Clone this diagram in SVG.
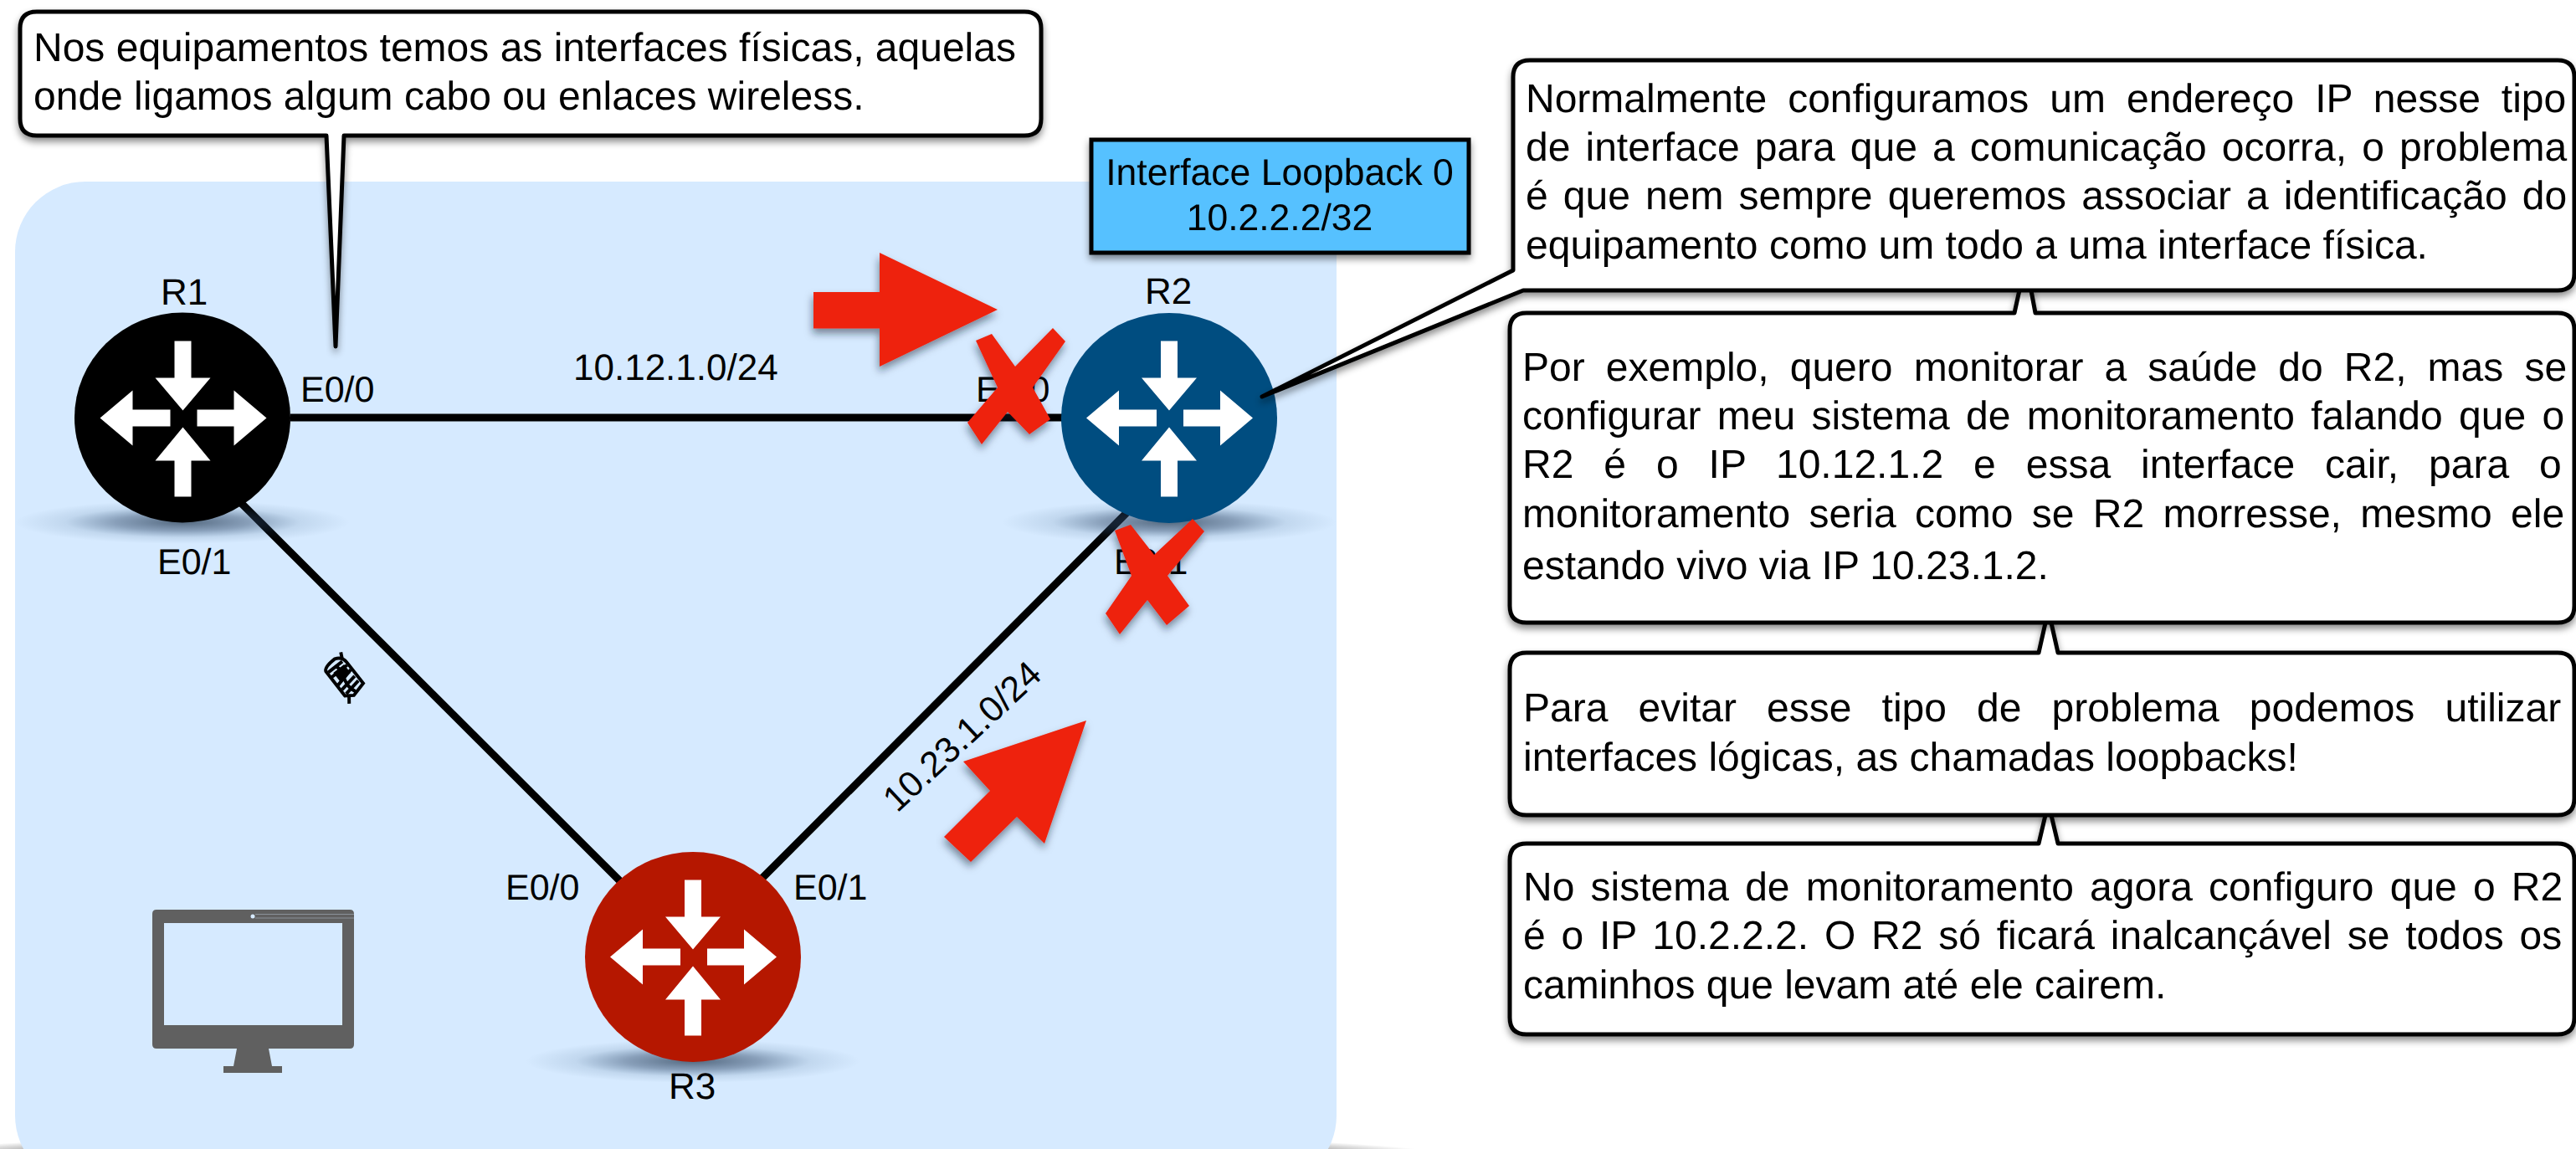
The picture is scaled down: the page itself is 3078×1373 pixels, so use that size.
<svg xmlns="http://www.w3.org/2000/svg" width="3078" height="1373" viewBox="0 0 3078 1373">
<style>
text{font-family:"Liberation Sans",Arial,sans-serif;fill:#000;text-rendering:geometricPrecision}
.b{font-size:48px}
.l{font-size:43px}
.r{font-size:44px}
.m{font-size:44px}
.c{text-anchor:middle}
.box{fill:#fff;stroke:#000;stroke-width:5;stroke-linejoin:round}
.link{stroke:#000;stroke-width:9;fill:none}
.red{fill:#EE220C}
</style>
<defs>
<filter id="sh" x="-10%" y="-10%" width="120%" height="125%"><feDropShadow dx="0" dy="5" stdDeviation="4" flood-color="#000" flood-opacity=".45"/></filter>
<filter id="shr" x="-20%" y="-20%" width="140%" height="140%"><feDropShadow dx="-1" dy="6" stdDeviation="5" flood-color="#123" flood-opacity=".5"/></filter>
<radialGradient id="gs"><stop offset="0" stop-color="#2a3f55" stop-opacity=".75"/><stop offset=".4" stop-color="#2a4465" stop-opacity=".45"/><stop offset=".7" stop-color="#2a4f75" stop-opacity=".12"/><stop offset="1" stop-color="#2a4f75" stop-opacity="0"/></radialGradient>
<radialGradient id="gb"><stop offset="0" stop-color="#000" stop-opacity=".7"/><stop offset=".8" stop-color="#000" stop-opacity=".45"/><stop offset="1" stop-color="#000" stop-opacity="0"/></radialGradient>
<g id="arrows" fill="#fff">
<path d="M-10-92H10V-48H33L0-9-33-48H-10Z"/>
<path d="M-10 94H10V51H33L0 11-33 51H-10Z"/>
<path d="M-15-10V10H-60V33L-99 0-60-33V-10Z"/>
<path d="M17-10V10H61V33L100 0 61-33V-10Z"/>
</g>
</defs>
<ellipse cx="807" cy="1382" rx="925" ry="32" fill="url(#gb)"/>
<rect id="area" x="18" y="217" width="1579" height="1200" rx="84" fill="#D6EAFF"/>
<g id="connectors">
<path class="link" d="M347 499H1270"/>
<path class="link" d="M288 601L742 1054"/>
<path class="link" d="M910 1050L1347 612"/>
</g>
<g id="R1">
<ellipse cx="218" cy="624" rx="200" ry="26" fill="url(#gs)"/>
<ellipse cx="218" cy="499" rx="129" ry="125.500" fill="#000"/>
<use href="#arrows" x="218.500" y="499.500"/>
<text class="r c" x="220" y="364">R1</text>
</g>
<g id="R2">
<ellipse cx="1397" cy="624" rx="200" ry="26" fill="url(#gs)"/>
<ellipse cx="1397" cy="499.500" rx="129" ry="125.500" fill="#004D80"/>
<use href="#arrows" x="1397" y="499.500"/>
<text class="r c" x="1396" y="363">R2</text>
</g>
<g id="R3">
<ellipse cx="828" cy="1268" rx="200" ry="26" fill="url(#gs)"/>
<ellipse cx="828" cy="1143.500" rx="129" ry="125.500" fill="#B51700"/>
<use href="#arrows" x="828" y="1143.500"/>
<text class="r c" x="827" y="1313">R3</text>
</g>
<g id="labels">
<text class="l" x="359" y="480">E0/0</text>
<text class="l" x="188" y="686">E0/1</text>
<text class="m" x="685" y="454">10.12.1.0/24</text>
<text class="l" x="1166" y="480">E0/0</text>
<text class="l" x="1331" y="686">E0/1</text>
<text class="l" x="604" y="1075">E0/0</text>
<text class="l" x="948" y="1075">E0/1</text>
<text class="m" transform="translate(1072 972) rotate(-43)" style="font-size:43px">10.23.1.0/24</text>
</g>
<g id="scribble" fill="none" stroke="#000" stroke-width="4.500" transform="translate(411 810) rotate(52) scale(.88)">
<path d="M-28-6Q-24-16-14-16H22L27 4 20 14H-22Q-28 12-28-6Z"/>
<path d="M-19-12V12M-11-14V14M-3-14L3 13M7-13L11 12M15-13L19 11M-20 0C-8-9 5 9 24-1M-30-18L-22-14M24 10L32 16"/>
<path d="M-12-9H-2V5H-12Z" fill="#000"/>
</g>
<g id="monitor">
<path fill="#606060" fill-rule="evenodd" d="M187 1087H418Q423 1087 423 1092V1248Q423 1253 418 1253H187Q182 1253 182 1248V1092Q182 1087 187 1087ZM196 1103V1225H409V1103Z"/>
<path fill="#606060" d="M283 1253H321L325 1274H337V1282H267V1274H279Z"/>
<path d="M305 1092.500H423M305 1097H423" stroke="#8a9199" stroke-width="1" fill="none"/>
<circle cx="302" cy="1095" r="2.500" fill="#D6EAFF"/>
</g>
<g id="arrow-red-1" filter="url(#shr)"><path class="red" d="M972 349H1051V302L1192 370 1051 438V392.500H972Z"/></g>
<g id="arrow-red-2" filter="url(#shr)"><path class="red" d="M1298 861L1248 1008 1215 976 1160 1030 1128 1000 1183 945 1151 910Z"/></g>
<g id="x-1" filter="url(#shr)"><path class="red" d="M1166 407L1185 399 1213 438 1258 392 1273 408 1234 463 1255 501 1230 519 1204 492 1173 531 1156 505 1192 463Z"/></g>
<g id="x-2" filter="url(#shr)"><path class="red" d="M1332 634L1351 627 1379 663 1425 620 1439 635 1395 688 1421 724 1394 747 1371 717 1338 758 1321 733 1352 688Z"/></g>
<g id="callout-physical" filter="url(#sh)">
<path class="box" d="M44 14H1224Q1244 14 1244 34V142Q1244 162 1224 162H411L401 414 390 162H44Q24 162 24 142V34Q24 14 44 14Z"/>
<text class="b" x="40" y="73">Nos equipamentos temos as interfaces físicas, aquelas</text>
<text class="b" x="40" y="131">onde ligamos algum cabo ou enlaces wireless.</text>
</g>
<g id="loopback" filter="url(#sh)">
<rect x="1304" y="167" width="451" height="135" fill="#56C1FF" stroke="#000" stroke-width="5"/>
<text class="c" font-size="44.500" x="1529" y="221">Interface Loopback 0</text>
<text class="c" font-size="44.500" x="1529" y="275">10.2.2.2/32</text>
</g>
<g id="callout-4" filter="url(#sh)">
<path class="box" d="M1824 1008H2436L2445 970H2450L2459 1008H3056Q3076 1008 3076 1028V1216Q3076 1236 3056 1236H1824Q1804 1236 1804 1216V1028Q1804 1008 1824 1008Z"/>
<text class="b" x="1820" y="1076" word-spacing="5.860">No sistema de monitoramento agora configuro que o R2</text>
<text class="b" x="1820" y="1134" word-spacing="5.460">é o IP 10.2.2.2. O R2 só ficará inalcançável se todos os</text>
<text class="b" x="1820" y="1193">caminhos que levam até ele cairem.</text>
</g>
<g id="callout-3" filter="url(#sh)">
<path class="box" d="M1824 780H2436L2445 740H2450L2459 780H3056Q3076 780 3076 800V954Q3076 974 3056 974H1824Q1804 974 1804 954V800Q1804 780 1824 780Z"/>
<text class="b" x="1820" y="862" word-spacing="22.800">Para evitar esse tipo de problema podemos utilizar</text>
<text class="b" x="1820" y="921">interfaces lógicas, as chamadas loopbacks!</text>
</g>
<g id="callout-2" filter="url(#sh)">
<path class="box" d="M1824 374H2407L2414 342H2426L2432 374H3056Q3076 374 3076 394V724Q3076 744 3056 744H1824Q1804 744 1804 724V394Q1804 374 1824 374Z"/>
<text class="b" x="1819" y="455" word-spacing="11.800">Por exemplo, quero monitorar a saúde do R2, mas se</text>
<text class="b" x="1819" y="513" word-spacing="5.970">configurar meu sistema de monitoramento falando que o</text>
<text class="b" x="1819" y="571" word-spacing="22.600">R2 é o IP 10.12.1.2 e essa interface cair, para o</text>
<text class="b" x="1819" y="630" word-spacing="9.050">monitoramento seria como se R2 morresse, mesmo ele</text>
<text class="b" x="1819" y="692">estando vivo via IP 10.23.1.2.</text>
</g>
<g id="callout-1" filter="url(#sh)">
<path class="box" d="M1828 72H3056Q3076 72 3076 92V327Q3076 347 3056 347H1820L1508 474 1808 323V92Q1808 72 1828 72Z"/>
<text class="b" x="1823" y="134" word-spacing="11.700">Normalmente configuramos um endereço IP nesse tipo</text>
<text class="b" x="1823" y="192" word-spacing="4.760">de interface para que a comunicação ocorra, o problema</text>
<text class="b" x="1823" y="250" word-spacing="4.770">é que nem sempre queremos associar a identificação do</text>
<text class="b" x="1823" y="309">equipamento como um todo a uma interface física.</text>
</g>
</svg>
